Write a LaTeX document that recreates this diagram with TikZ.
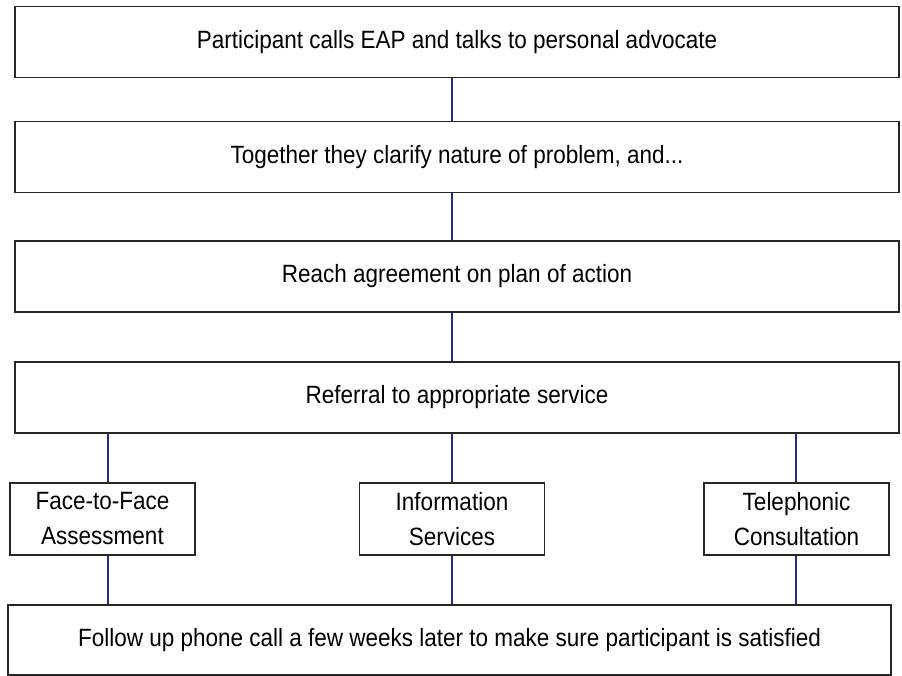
\documentclass[tikz,border=0pt]{standalone}
\usepackage{fontspec}
\setmainfont{Liberation Sans}[FakeStretch=0.9]

\definecolor{linkblue}{RGB}{40,40,140}

\tikzset{
  box/.style={draw=black!85, line width=1.6pt, inner sep=0pt,
    minimum width=884pt, minimum height=71pt,
    font=\fontsize{25}{35}\selectfont},
  small box/.style={box, minimum width=185pt, minimum height=72pt, align=center},
  link/.style={draw=linkblue, line width=1.2pt}
}

\begin{document}
\begin{tikzpicture}[x=1pt,y=-1pt]
  \useasboundingbox (0,0) rectangle (902,676);
  \node[box] (calls) at (457,42) {Participant calls EAP and talks to personal advocate};
  \node[box] (clarify) at (457,157) {Together they clarify nature of problem, and...};
  \node[box] (agree) at (457,276.5) {Reach agreement on plan of action};
  \node[box] (referral) at (457,397.5) {Referral to appropriate service};
  \node[small box] (facetoface) at (102.5,519) {Face-to-Face\\Assessment};
  \node[small box] (info) at (452,519) {Information\\Services};
  \node[small box] (phone) at (796.5,519) {Telephonic\\Consultation};
  \node[box, minimum width=883pt, minimum height=70pt] (followup) at (449.5,640)
    {Follow up phone call a few weeks later to make sure participant is satisfied};
  \coordinate (mid) at (452,0);
  \coordinate (leftx) at (108,0);
  \coordinate (rightx) at (796,0);
  \draw[link] (calls.south -| mid) -- (clarify.north -| mid);
  \draw[link] (clarify.south -| mid) -- (agree.north -| mid);
  \draw[link] (agree.south -| mid) -- (referral.north -| mid);
  \draw[link] (referral.south -| leftx) -- (facetoface.north -| leftx);
  \draw[link] (referral.south -| mid) -- (info.north -| mid);
  \draw[link] (referral.south -| rightx) -- (phone.north -| rightx);
  \draw[link] (facetoface.south -| leftx) -- (followup.north -| leftx);
  \draw[link] (info.south -| mid) -- (followup.north -| mid);
  \draw[link] (phone.south -| rightx) -- (followup.north -| rightx);
\end{tikzpicture}
\end{document}
